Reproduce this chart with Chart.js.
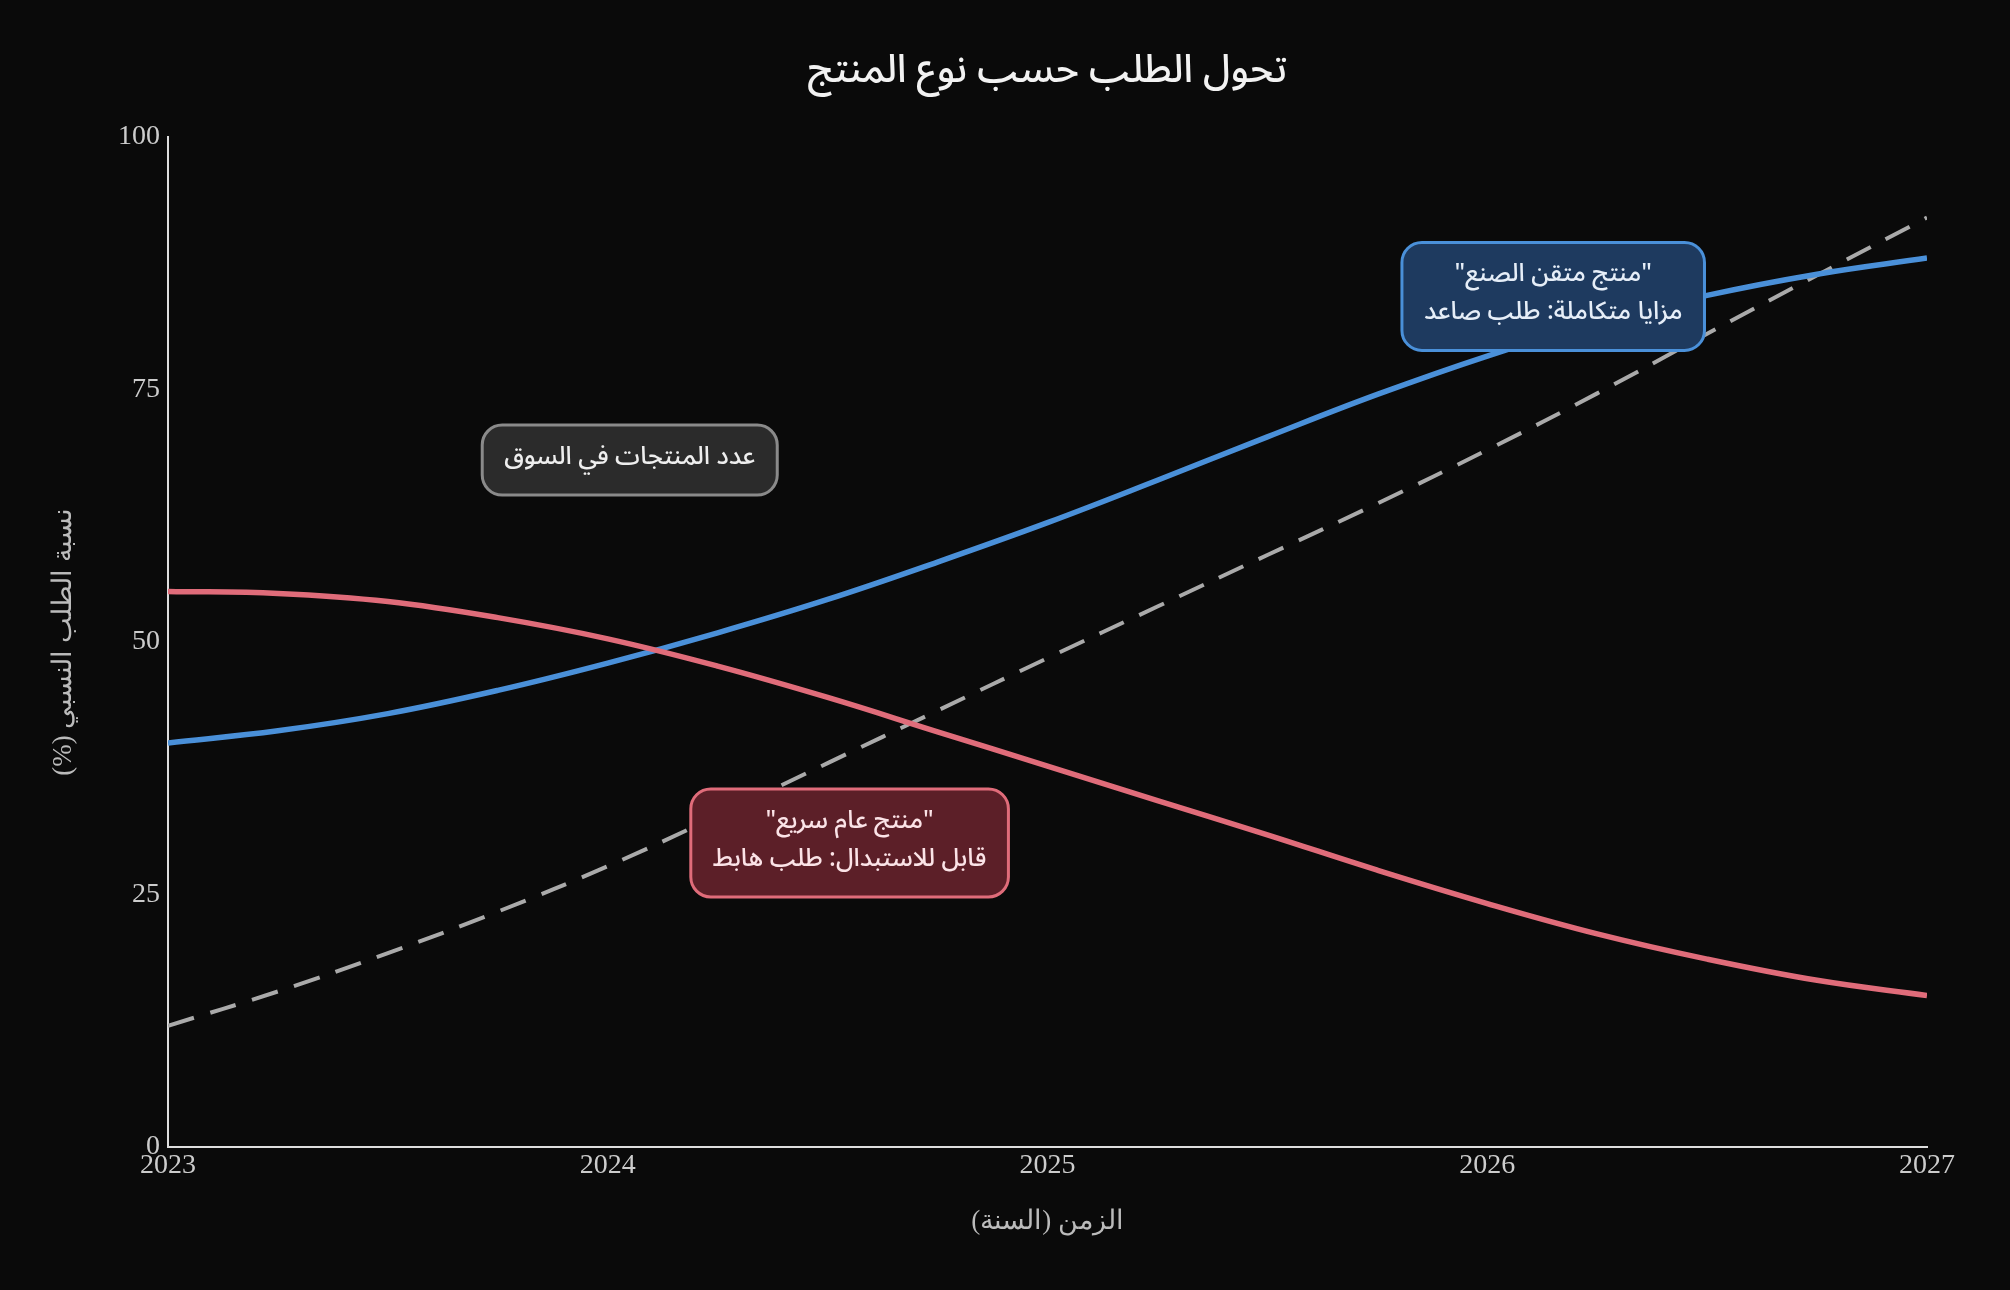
<!DOCTYPE html>
<html>
<head>
<meta charset="utf-8">
<script src="https://cdn.jsdelivr.net/npm/chart.js@4.4.1/dist/chart.umd.min.js"></script>
<style>
html,body{margin:0;padding:0;background:#0a0a0a;}
#wrap{width:2010px;height:1290px;}
</style>
</head>
<body>
<div id="wrap"><canvas id="c" width="2010" height="1290" dir="rtl"></canvas></div>
<script>
// ---- data ----
const years = [2023, 2023.25, 2023.5, 2023.75, 2024, 2024.25, 2024.5, 2024.75, 2025, 2025.25, 2025.5, 2025.75, 2026, 2026.25, 2026.5, 2026.75, 2027];
const craftedDemand = [40.0, 41.2, 42.9, 45.2, 47.9, 50.9, 54.2, 57.9, 61.8, 66.0, 70.3, 74.5, 78.3, 81.6, 84.3, 86.4, 88.0];
const genericDemand = [55.0, 54.8, 54.0, 52.4, 50.3, 47.6, 44.5, 41.1, 37.7, 34.3, 30.9, 27.4, 24.1, 21.1, 18.6, 16.5, 15.0];
const productCount = [12.0, 15.4, 19.2, 23.3, 27.8, 32.8, 38.0, 43.2, 48.4, 53.5, 58.6, 63.7, 69.0, 74.6, 80.5, 86.3, 92.0];
const xTickValues = [2023, 2024, 2025, 2026, 2027];
const yTickValues = [0, 25, 50, 75, 100];
const chartTitle = 'تحول الطلب حسب نوع المنتج';
const xAxisTitle = 'الزمن (السنة)';
const yAxisTitle = 'نسبة الطلب النسبي (%)';
const noteGray = { x: 2024.05, y: 68.0, lines: ['عدد المنتجات في السوق'] };
const noteRed = { x: 2024.55, y: 30.1, lines: ['"منتج عام سريع"', 'قابل للاستبدال: طلب هابط'] };
const noteBlue = { x: 2026.15, y: 84.2, lines: ['"منتج متقن الصنع"', 'مزايا متكاملة: طلب صاعد'] };

// ---- styles ----
const ARABIC = '"Noto Sans Arabic", "Noto Sans", "DejaVu Sans", sans-serif';
const SERIF = '"Liberation Serif", "DejaVu Serif", serif';
const notes = [
  Object.assign({ fill: '#2b2b2b', stroke: '#8a8a8a', text: '#eeeeee' }, noteGray),
  Object.assign({ fill: '#5c1f28', stroke: '#e06c7a', text: '#fbe3e7' }, noteRed),
  Object.assign({ fill: '#1e3a5f', stroke: '#4a90d9', text: '#e6eef8' }, noteBlue)
];

const notePlugin = {
  id: 'notes',
  afterDatasetsDraw(chart) {
    const { ctx, scales: { x, y } } = chart;
    const padX = 22, padY = 16, lineH = 38;
    ctx.save();
    ctx.font = '500 25px ' + ARABIC;
    ctx.textAlign = 'center';
    ctx.textBaseline = 'middle';
    ctx.direction = 'rtl';
    for (const n of notes) {
      const cx = x.getPixelForValue(n.x);
      const cy = y.getPixelForValue(n.y);
      const w = Math.max(...n.lines.map(l => ctx.measureText(l).width)) + 2 * padX;
      const h = n.lines.length * lineH + 2 * padY;
      ctx.beginPath();
      ctx.roundRect(cx - w / 2, cy - h / 2, w, h, 20);
      ctx.fillStyle = n.fill;
      ctx.fill();
      ctx.lineWidth = 3;
      ctx.strokeStyle = n.stroke;
      ctx.stroke();
      ctx.fillStyle = n.text;
      n.lines.forEach((l, i) => ctx.fillText(l, cx, cy - h / 2 + padY + lineH * (i + 0.5)));
    }
    ctx.restore();
  }
};

const bgPlugin = {
  id: 'bg',
  beforeDraw(chart) {
    const { ctx, width, height } = chart;
    ctx.save();
    ctx.fillStyle = '#0a0a0a';
    ctx.fillRect(0, 0, width, height);
    ctx.restore();
  }
};

const toPts = arr => years.map((yr, i) => ({ x: yr, y: arr[i] }));

new Chart(document.getElementById('c'), {
  type: 'line',
  data: {
    datasets: [
      { data: toPts(genericDemand), borderColor: '#e06c7a', borderWidth: 5.5, pointRadius: 0, tension: 0.4, fill: false },
      { data: toPts(craftedDemand), borderColor: '#4a90d9', borderWidth: 5.5, pointRadius: 0, tension: 0.4, fill: false },
      { data: toPts(productCount), borderColor: '#aaaaaa', borderWidth: 4, borderDash: [27, 17], pointRadius: 0, tension: 0.4, fill: false }
    ]
  },
  options: {
    responsive: false,
    animation: false,
    devicePixelRatio: 1,
    layout: { padding: { left: 0, right: 83, top: 0, bottom: 0 } },
    plugins: {
      legend: { display: false },
      tooltip: { enabled: false },
      title: {
        display: true,
        fullSize: false,
        text: chartTitle,
        color: '#f2f2f2',
        font: { family: ARABIC, size: 39, weight: '500', lineHeight: 1.2 },
        padding: { top: 53, bottom: 37 }
      }
    },
    scales: {
      x: {
        type: 'linear',
        min: 2023, max: 2027,
        afterBuildTicks(s) { s.ticks = xTickValues.map(v => ({ value: v })); },
        ticks: { color: '#cccccc', font: { family: SERIF, size: 28 }, padding: 2, maxRotation: 0, callback: v => String(v) },
        grid: { display: false, drawTicks: false },
        border: { display: true, color: '#dddddd', width: 2 },
        title: { display: true, text: xAxisTitle, color: '#bbbbbb', font: { family: SERIF, size: 27 }, padding: { top: 4, bottom: 52 } },
        afterFit(s) { s.height = 143; s.paddingLeft = 0; s.paddingRight = 0; }
      },
      y: {
        min: 0, max: 100,
        afterBuildTicks(s) { s.ticks = yTickValues.map(v => ({ value: v })); },
        ticks: { color: '#cccccc', font: { family: SERIF, size: 28 }, padding: 8, callback: v => String(v) },
        grid: { display: false, drawTicks: false },
        border: { display: true, color: '#dddddd', width: 2 },
        title: { display: true, text: yAxisTitle, color: '#bbbbbb', font: { family: SERIF, size: 27 }, padding: { top: 48, bottom: 4 } },
        afterFit(s) { s.width = 168; s.paddingTop = 0; s.paddingBottom = 0; }
      }
    }
  },
  plugins: [bgPlugin, notePlugin]
});
</script>
</body>
</html>
